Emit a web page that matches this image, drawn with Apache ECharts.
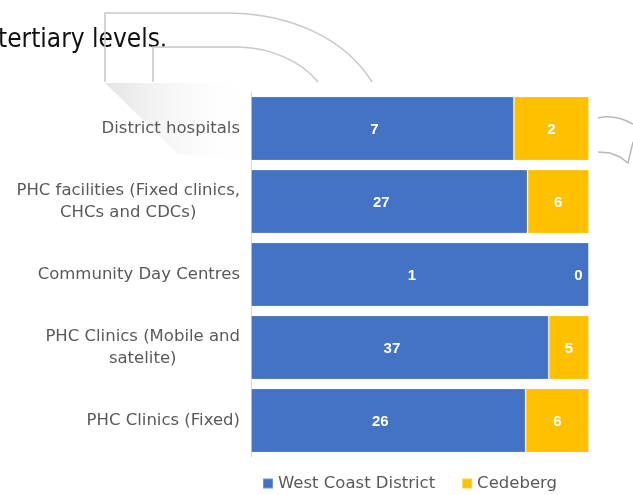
<!DOCTYPE html>
<html>
<head>
<meta charset="utf-8">
<script src="https://cdn.jsdelivr.net/npm/echarts@6/dist/echarts.min.js"></script>
<style>
  html, body { margin: 0; padding: 0; background: #ffffff; }
  #chart { width: 633px; height: 495px; }
</style>
</head>
<body>
<div id="chart"></div>
<script>
// Facility counts by type: West Coast District vs Cedeberg
const categories = [
  'District hospitals',
  'PHC facilities (Fixed clinics,\nCHCs and CDCs)',
  'Community Day Centres',
  'PHC Clinics (Mobile and\nsatelite)',
  'PHC Clinics (Fixed)'
];
const westCoast = [7, 27, 1, 37, 26];
const cedeberg = [2, 6, 0, 5, 6];
const seriesNames = ['West Coast District', 'Cedeberg'];

const BLUE = '#4472C4';
const GOLD = '#FFC000';
const GREY_TEXT = '#595959';
const LABEL_FONT = '"DejaVu Sans", Lato, sans-serif';
const OUTLINE = { fill: null, stroke: '#c8c8c8', lineWidth: 1.5 };

// Each row is drawn as shares of its own total (100% stacked)
const totals = westCoast.map((v, i) => v + cedeberg[i]);
const share = (arr) => arr.map((v, i) => ({ value: v / totals[i], count: v }));

const chart = echarts.init(document.getElementById('chart'), null, { renderer: 'canvas' });

const westData = share(westCoast);
const cedeData = share(cedeberg).map(d => d.count === 0
  ? Object.assign(d, { label: { position: 'left', distance: 6 } })
  : d);

const valueLabel = {
  show: true, position: 'inside',
  color: '#ffffff', fontWeight: 'bold', fontSize: 15,
  fontFamily: '"Liberation Sans", Arial, sans-serif',
  formatter: (p) => String(p.data.count)
};

chart.setOption({
  animation: false,
  backgroundColor: '#ffffff',
  grid: { left: 251, right: 44, top: 92, height: 365, containLabel: false },
  xAxis: { type: 'value', min: 0, max: 1, show: false },
  yAxis: {
    type: 'category',
    inverse: true,
    data: categories,
    axisLine: { show: true, lineStyle: { color: '#d9d9d9', width: 1 } },
    axisTick: { show: false },
    axisLabel: {
      margin: 11,
      color: GREY_TEXT,
      fontFamily: LABEL_FONT,
      fontSize: 16.5,
      formatter: (v) => v.split('\n').map(s => '{c|' + s + '}').join('\n'),
      rich: {
        c: { align: 'center', color: GREY_TEXT, fontFamily: LABEL_FONT, fontSize: 16.5, lineHeight: 22 }
      }
    }
  },
  legend: {
    bottom: -2,
    left: 257,
    icon: 'rect',
    itemWidth: 10, itemHeight: 10,
    itemGap: 26,
    textStyle: { color: GREY_TEXT, fontFamily: LABEL_FONT, fontSize: 16.5 },
    data: seriesNames
  },
  series: [
    {
      name: seriesNames[0], type: 'bar', stack: 'all',
      barCategoryGap: '12%',
      itemStyle: { color: BLUE, borderColor: 'rgba(255,255,255,0.25)', borderWidth: 1 },
      label: Object.assign({}, valueLabel, { offset: [-8, 1] }),
      data: westData
    },
    {
      name: seriesNames[1], type: 'bar', stack: 'all',
      itemStyle: { color: GOLD, borderColor: 'rgba(255,255,255,0.25)', borderWidth: 1 },
      label: Object.assign({}, valueLabel, { offset: [0, 1] }),
      data: cedeData
    }
  ],
  graphic: [
    // surrounding page text
    {
      type: 'text', x: -2, y: 27, silent: true,
      style: { text: 'tertiary levels.', fill: '#111111', font: '26px "DejaVu Sans Condensed", "DejaVu Sans", sans-serif', textVerticalAlign: 'top' }
    },
    // decorative curved arrow outlines behind the chart
    { type: 'polyline', silent: true, shape: { points: [[105, 82], [105, 13], [230, 13]] }, style: OUTLINE },
    { type: 'bezierCurve', silent: true,
      shape: { x1: 230, y1: 13, cpx1: 290, cpy1: 14, cpx2: 345, cpy2: 38, x2: 372, y2: 82 }, style: OUTLINE },
    { type: 'polyline', silent: true, shape: { points: [[153, 82], [153, 47], [240, 47]] }, style: OUTLINE },
    { type: 'bezierCurve', silent: true,
      shape: { x1: 240, y1: 47, cpx1: 272, cpy1: 48, cpx2: 302, cpy2: 62, x2: 318, y2: 82 }, style: OUTLINE },
    {
      type: 'polygon', silent: true, z: -1,
      shape: { points: [[105, 83], [250, 83], [250, 160], [178, 154]] },
      style: {
        fill: new echarts.graphic.LinearGradient(0, 0, 1, 0, [
          { offset: 0, color: 'rgba(205,205,205,0.55)' },
          { offset: 0.6, color: 'rgba(235,235,235,0.25)' },
          { offset: 1, color: 'rgba(255,255,255,0)' }
        ])
      }
    },
    { type: 'bezierCurve', silent: true,
      shape: { x1: 598, y1: 118, cpx1: 610, cpy1: 115, cpx2: 622, cpy2: 118, x2: 633, y2: 124 },
      style: { fill: null, stroke: '#b8b8b8', lineWidth: 1.5 } },
    { type: 'polyline', silent: true,
      shape: { points: [[598, 152], [610, 153], [620, 157], [628, 163], [633, 142]] },
      style: { fill: null, stroke: '#b8b8b8', lineWidth: 1.5 } }
  ]
});
</script>
</body>
</html>
